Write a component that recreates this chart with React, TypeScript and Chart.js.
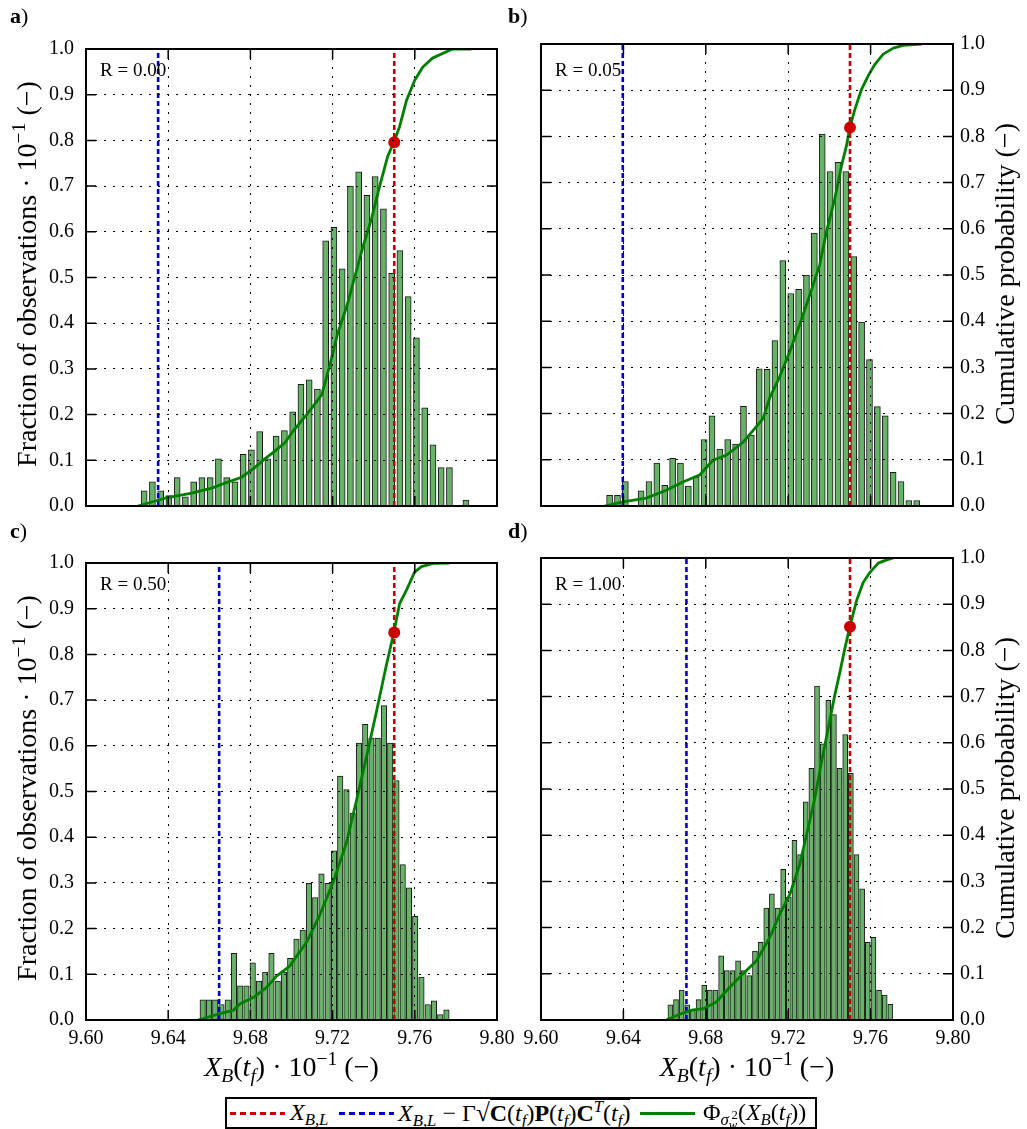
import React, { useEffect, useRef } from "react";
import { Chart, registerables } from "chart.js";

Chart.register(...registerables);

const FONT = "'Liberation Serif', 'Times New Roman', 'DejaVu Serif', serif";

// ---------- axes ----------
const xTicks = [9.6, 9.64, 9.68, 9.72, 9.76, 9.8];
const xTickLabels = ["9.60", "9.64", "9.68", "9.72", "9.76", "9.80"];
const yTicks = [0, 0.1, 0.2, 0.3, 0.4, 0.5, 0.6, 0.7, 0.8, 0.9, 1.0];
const yTickLabels = ["0.0", "0.1", "0.2", "0.3", "0.4", "0.5", "0.6", "0.7", "0.8", "0.9", "1.0"];

// ---------- panel meta ----------
const panelLetters = ["a", "b", "c", "d"];
const rLabels = ["R = 0.00", "R = 0.05", "R = 0.50", "R = 1.00"];
const limitValues = [9.75, 9.75, 9.75, 9.75]; // X_B,L (red dashed)
const boundValues = [9.6351, 9.6397, 9.6648, 9.6706]; // blue dashed
const dotValues = [0.796, 0.819, 0.848, 0.851]; // CDF at X_B,L
const binStarts = [9.6283, 9.6333, 9.6568, 9.6628]; // first bin centre
const binWidths = [0.004015, 0.003823, 0.003041, 0.002738];

// ---------- histogram fractions (·10^-1) ----------
const fractionA = [0.033, 0.053, 0.033, 0.023, 0.062, 0.02, 0.053, 0.062, 0.062, 0.103,
  0.062, 0.053, 0.113, 0.123, 0.163, 0.103, 0.153, 0.165, 0.206, 0.266,
  0.276, 0.256, 0.58, 0.61, 0.519, 0.70, 0.731, 0.68, 0.721, 0.65,
  0.509, 0.559, 0.458, 0.368, 0.215, 0.134, 0.084, 0.084, 0, 0.013];
const fractionB = [0.023, 0.023, 0.053, 0, 0.033, 0.053, 0.093, 0.045, 0.103, 0.093,
  0.043, 0.063, 0.144, 0.195, 0.123, 0.144, 0.134, 0.216, 0.153, 0.297,
  0.296, 0.358, 0.531, 0.46, 0.469, 0.50, 0.591, 0.805, 0.724, 0.744,
  0.724, 0.54, 0.398, 0.317, 0.215, 0.195, 0.073, 0.053, 0.012, 0.012];
const fractionC = [0.044, 0.044, 0.044, 0.034, 0.044, 0.146, 0.075, 0.075, 0.125, 0.085,
  0.105, 0.146, 0.085, 0.105, 0.135, 0.177, 0.197, 0.299, 0.268, 0.32,
  0.299, 0.37, 0.534, 0.504, 0.453, 0.606, 0.647, 0.617, 0.617, 0.688,
  0.606, 0.524, 0.34, 0.289, 0.227, 0.094, 0.034, 0.042, 0.012, 0.022];
const fractionD = [0.033, 0.044, 0.065, 0.033, 0.022, 0.044, 0.075, 0.065, 0.065, 0.139,
  0.107, 0.107, 0.128, 0.107, 0.096, 0.149, 0.168, 0.242, 0.273, 0.242,
  0.326, 0.266, 0.389, 0.358, 0.472, 0.545, 0.723, 0.598, 0.692, 0.661,
  0.545, 0.618, 0.534, 0.358, 0.284, 0.168, 0.179, 0.064, 0.054, 0.034];

// ---------- cumulative probability curves ----------
const cdfXA = [9.6253, 9.6384, 9.6515, 9.6612, 9.6676, 9.6758, 9.6821, 9.687, 9.6919, 9.6967,
  9.7006, 9.7074, 9.7147, 9.7186, 9.7225, 9.7269, 9.7307, 9.7346, 9.739, 9.7429,
  9.7468, 9.7498, 9.7526, 9.756, 9.7599, 9.7638, 9.7686, 9.7735, 9.7784, 9.7876];
const cdfYA = [0, 0.017, 0.028, 0.039, 0.05, 0.063, 0.084, 0.103, 0.12, 0.138,
  0.163, 0.2, 0.243, 0.307, 0.378, 0.437, 0.5, 0.565, 0.63, 0.7,
  0.765, 0.796, 0.83, 0.888, 0.931, 0.96, 0.98, 0.99, 1.0, 1.0];
const cdfXB = [9.6309, 9.6398, 9.6511, 9.6608, 9.6689, 9.677, 9.6835, 9.69, 9.6981, 9.7029,
  9.7078, 9.7111, 9.7159, 9.7208, 9.7256, 9.7305, 9.7353, 9.7386, 9.7426, 9.7459,
  9.7483, 9.7499, 9.7524, 9.7556, 9.7588, 9.7621, 9.7661, 9.771, 9.7758, 9.7848];
const cdfYB = [0, 0.009, 0.017, 0.034, 0.052, 0.067, 0.099, 0.11, 0.138, 0.163,
  0.189, 0.235, 0.28, 0.335, 0.393, 0.457, 0.522, 0.594, 0.665, 0.737,
  0.78, 0.819, 0.859, 0.902, 0.931, 0.956, 0.978, 0.991, 0.997, 1.0];
const cdfXC = [9.6546, 9.6651, 9.6716, 9.6748, 9.6813, 9.6878, 9.6927, 9.6991, 9.7073, 9.7137,
  9.7202, 9.7267, 9.7316, 9.7364, 9.7413, 9.7461, 9.7498, 9.7526, 9.7559, 9.7599,
  9.7632, 9.7688, 9.7769];
const cdfYC = [0, 0.014, 0.021, 0.035, 0.049, 0.071, 0.096, 0.118, 0.17, 0.229,
  0.301, 0.387, 0.48, 0.574, 0.674, 0.775, 0.848, 0.911, 0.94, 0.98,
  0.992, 0.999, 1.0];
const cdfXD = [9.6608, 9.6689, 9.6738, 9.6786, 9.6851, 9.6916, 9.6981, 9.7046, 9.7111, 9.7159,
  9.7208, 9.7256, 9.7297, 9.7329, 9.7362, 9.7394, 9.7426, 9.7451, 9.7475, 9.7499,
  9.7532, 9.7564, 9.7597, 9.7637, 9.7678, 9.771];
const cdfYD = [0, 0.015, 0.022, 0.024, 0.039, 0.071, 0.1, 0.128, 0.179, 0.229,
  0.272, 0.337, 0.416, 0.48, 0.559, 0.631, 0.703, 0.753, 0.804, 0.851,
  0.908, 0.947, 0.969, 0.989, 0.996, 1.0];

const fractions = [fractionA, fractionB, fractionC, fractionD];
const cdfXs = [cdfXA, cdfXB, cdfXC, cdfXD];
const cdfYs = [cdfYA, cdfYB, cdfYC, cdfYD];

// ---------- layout (page px of plot areas) ----------
const layouts = [
  { cl: 86, ct: 41, cr: 497, cb: 506, left: true, right: false, xlab: false, bar: 6, lx: 10, ly: 5 },
  { cl: 541, ct: 41, cr: 953, cb: 506, left: false, right: true, xlab: false, bar: 6, lx: 508, ly: 5 },
  { cl: 86, ct: 555, cr: 497, cb: 1020, left: true, right: false, xlab: true, bar: 5.5, lx: 10, ly: 520 },
  { cl: 541, ct: 555, cr: 953, cb: 1020, left: false, right: true, xlab: true, bar: 5, lx: 508, ly: 520 },
];
const SIDE = 60, PADT = 16, XH = 40;

const RED = "#cc0000";
const BLUE = "#0000cc";
const GREEN = "#008000";
const BARFILL = "#66b266";

const framePlugin = {
  id: "frameTicks",
  afterDraw(chart: any) {
    const { ctx, chartArea } = chart;
    const { left, right, top, bottom } = chartArea;
    const xs = chart.scales.x;
    const ys = chart.scales.y;
    const TL = 10;
    ctx.save();
    ctx.strokeStyle = "#000";
    ctx.lineWidth = 1.5;
    ctx.setLineDash([]);
    ctx.beginPath();
    xTicks.forEach((v) => {
      const px = xs.getPixelForValue(v);
      ctx.moveTo(px, bottom);
      ctx.lineTo(px, bottom - TL);
      ctx.moveTo(px, top);
      ctx.lineTo(px, top + TL);
    });
    yTicks.forEach((v) => {
      const py = ys.getPixelForValue(v);
      ctx.moveTo(left, py);
      ctx.lineTo(left + TL, py);
      ctx.moveTo(right, py);
      ctx.lineTo(right - TL, py);
    });
    ctx.stroke();
    ctx.lineWidth = 2;
    ctx.strokeRect(left, top, right - left, bottom - top);
    ctx.restore();
  },
};

function Panel({ idx }: { idx: number }) {
  const ref = useRef<HTMLCanvasElement>(null);
  const L = layouts[idx];
  const W = L.cr - L.cl + 2 * SIDE;
  const H = L.cb - L.ct + PADT + XH;

  useEffect(() => {
    if (!ref.current) return;
    const bars = fractions[idx].map((f, i) => ({ x: binStarts[idx] + i * binWidths[idx], y: f }));
    const cdf = cdfXs[idx].map((x, i) => ({ x, y: cdfYs[idx][i] }));
    const tickFont = { family: FONT, size: 20 };
    const config: any = {
      type: "bar",
      data: {
        datasets: [
          {
            type: "scatter",
            data: [{ x: limitValues[idx], y: dotValues[idx] }],
            pointRadius: 6,
            pointHoverRadius: 6,
            backgroundColor: RED,
            borderColor: RED,
            borderWidth: 0,
            order: 0,
          },
          {
            type: "line",
            data: cdf,
            borderColor: GREEN,
            borderWidth: 2.8,
            pointRadius: 0,
            tension: 0,
            fill: false,
            borderJoinStyle: "round",
            order: 1,
          },
          {
            type: "line",
            data: [{ x: limitValues[idx], y: 0 }, { x: limitValues[idx], y: 1 }],
            borderColor: RED,
            borderWidth: 2.6,
            borderDash: [5, 3],
            pointRadius: 0,
            fill: false,
            order: 2,
          },
          {
            type: "line",
            data: [{ x: boundValues[idx], y: 0 }, { x: boundValues[idx], y: 1 }],
            borderColor: BLUE,
            borderWidth: 2.6,
            borderDash: [5, 3],
            pointRadius: 0,
            fill: false,
            order: 3,
          },
          {
            type: "bar",
            data: bars,
            backgroundColor: BARFILL,
            borderColor: "#1a1a1a",
            borderWidth: 1,
            barThickness: L.bar,
            order: 4,
          },
        ],
      },
      options: {
        animation: false,
        responsive: false,
        events: [],
        layout: { padding: { left: 0, right: 0, top: PADT, bottom: 0 } },
        plugins: { legend: { display: false }, tooltip: { enabled: false } },
        scales: {
          x: {
            type: "linear",
            min: 9.6,
            max: 9.8,
            offset: false,
            afterBuildTicks: (s: any) => {
              s.ticks = xTicks.map((v) => ({ value: v }));
            },
            afterFit: (s: any) => {
              s.height = XH;
            },
            ticks: {
              display: L.xlab,
              autoSkip: false,
              maxRotation: 0,
              minRotation: 0,
              padding: 7,
              color: "#000",
              font: tickFont,
              callback: (_v: any, i: number) => xTickLabels[i],
            },
            grid: { color: "#000", lineWidth: 1, drawTicks: false, offset: false, z: 1, borderDash: [2, 7] },
            border: { display: false, dash: [2, 7] },
          },
          y: {
            type: "linear",
            position: "left",
            min: 0,
            max: 1,
            afterBuildTicks: (s: any) => {
              s.ticks = yTicks.map((v) => ({ value: v }));
            },
            afterFit: (s: any) => {
              s.width = SIDE;
            },
            ticks: {
              display: L.left,
              padding: 12,
              color: "#000",
              font: tickFont,
              callback: (_v: any, i: number) => yTickLabels[i],
            },
            grid: { color: "#000", lineWidth: 1, drawTicks: false, z: 1, borderDash: [2, 7] },
            border: { display: false, dash: [2, 7] },
          },
          y2: {
            type: "linear",
            position: "right",
            min: 0,
            max: 1,
            afterBuildTicks: (s: any) => {
              s.ticks = yTicks.map((v) => ({ value: v }));
            },
            afterFit: (s: any) => {
              s.width = SIDE;
            },
            ticks: {
              display: L.right,
              padding: 7,
              color: "#000",
              font: tickFont,
              callback: (_v: any, i: number) => yTickLabels[i],
            },
            grid: { drawOnChartArea: false, drawTicks: false },
            border: { display: false },
          },
        },
      },
      plugins: [framePlugin],
    };
    const chart = new Chart(ref.current, config);
    return () => chart.destroy();
  }, [idx]);

  return (
    <canvas
      ref={ref}
      width={W}
      height={H}
      style={{ position: "absolute", left: L.cl - SIDE, top: L.ct - PADT, width: W, height: H }}
    />
  );
}

const sub: React.CSSProperties = { fontSize: "0.7em", verticalAlign: "-0.3em", lineHeight: 0 };
const sup: React.CSSProperties = { fontSize: "0.7em", verticalAlign: "0.55em", lineHeight: 0 };

function XTitle() {
  return (
    <span>
      <i>X</i>
      <span style={sub}><i>B</i></span>(<i>t</i>
      <span style={sub}><i>f</i></span>) · 10<span style={sup}>−1</span> (−)
    </span>
  );
}

function Sample({ color, dashed, left }: { color: string; dashed: boolean; left: number }) {
  return (
    <div
      style={{
        position: "absolute",
        left,
        top: 13,
        width: 55,
        height: 3,
        background: dashed
          ? `repeating-linear-gradient(90deg, ${color} 0 6px, transparent 6px 10px)`
          : color,
      }}
    />
  );
}

export default function App() {
  const titleStyle: React.CSSProperties = {
    position: "absolute",
    fontFamily: FONT,
    fontSize: 28,
    whiteSpace: "nowrap",
    transform: "translate(-50%, -50%) rotate(-90deg)",
    lineHeight: 1,
  };
  const legText: React.CSSProperties = { position: "absolute", top: 1, whiteSpace: "nowrap", lineHeight: "25px" };
  return (
    <div
      style={{
        position: "absolute",
        left: 0,
        top: 0,
        width: 1027,
        height: 1129,
        overflow: "hidden",
        background: "#fff",
        fontFamily: FONT,
        color: "#000",
      }}
    >
      {layouts.map((L, i) => (
        <Panel key={i} idx={i} />
      ))}
      {layouts.map((L, i) => (
        <div key={"l" + i} style={{ position: "absolute", left: L.lx, top: L.ly, fontSize: 22, lineHeight: 1 }}>
          <b>{panelLetters[i]}</b>)
        </div>
      ))}
      {layouts.map((L, i) => (
        <div
          key={"r" + i}
          style={{ position: "absolute", left: L.cl + 14, top: L.ct + 19, fontSize: 19, lineHeight: 1 }}
        >
          {rLabels[i]}
        </div>
      ))}
      {[layouts[0], layouts[2]].map((L, i) => (
        <div key={"yl" + i} style={{ ...titleStyle, left: 27, top: (L.ct + L.cb) / 2 }}>
          Fraction of observations · 10<span style={sup}>−1</span> (−)
        </div>
      ))}
      {[layouts[1], layouts[3]].map((L, i) => (
        <div key={"yr" + i} style={{ ...titleStyle, left: 1005, top: (L.ct + L.cb) / 2 }}>
          Cumulative probability (−)
        </div>
      ))}
      {[layouts[2], layouts[3]].map((L, i) => (
        <div
          key={"xt" + i}
          style={{
            position: "absolute",
            left: (L.cl + L.cr) / 2,
            top: 1067,
            transform: "translate(-50%, -50%)",
            fontSize: 28,
            whiteSpace: "nowrap",
            lineHeight: 1,
          }}
        >
          <XTitle />
        </div>
      ))}
      <div
        style={{
          position: "absolute",
          left: 225,
          top: 1097,
          width: 592,
          height: 32,
          border: "2px solid #000",
          boxSizing: "border-box",
          fontSize: 24,
        }}
      >
        <Sample color={RED} dashed={true} left={3} />
        <span style={{ ...legText, left: 63 }}>
          <i>X</i>
          <span style={sub}><i>B,L</i></span>
        </span>
        <Sample color={BLUE} dashed={true} left={112} />
        <span style={{ ...legText, left: 171 }}>
          <i>X</i>
          <span style={sub}><i>B,L</i></span> − Γ
          <span style={{ fontSize: "1.05em" }}>√</span>
          <span style={{ borderTop: "1.5px solid #000", paddingTop: 0 }}>
            <b>C</b>(<i>t</i><span style={sub}><i>f</i></span>)<b>P</b>(<i>t</i>
            <span style={sub}><i>f</i></span>)<b>C</b>
            <span style={sup}><i>T</i></span>(<i>t</i><span style={sub}><i>f</i></span>)
          </span>
        </span>
        <Sample color={GREEN} dashed={false} left={413} />
        <span style={{ ...legText, left: 476 }}>
          Φ
          <span style={sub}>
            <i>σ</i>
            <span style={{ fontSize: "0.75em", position: "relative", top: "0.3em" }}><i>w</i></span>
            <span style={{ fontSize: "0.75em", position: "relative", top: "-0.5em", marginLeft: "-0.45em" }}>2</span>
          </span>
          (<i>X</i><span style={sub}><i>B</i></span>(<i>t</i><span style={sub}><i>f</i></span>))
        </span>
      </div>
    </div>
  );
}
